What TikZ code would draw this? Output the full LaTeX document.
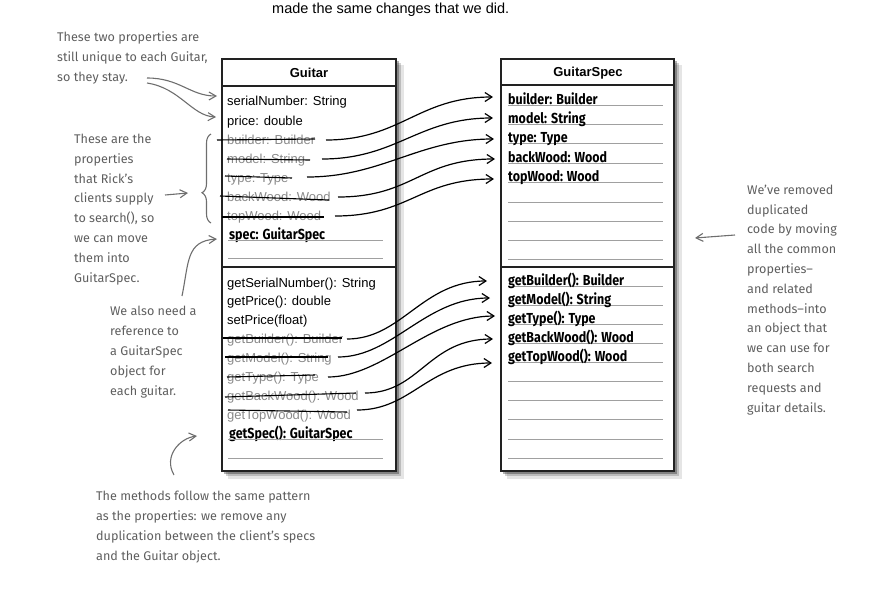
\documentclass[tikz,border=0pt]{standalone}
\usepackage{fontspec}
\setmainfont{Liberation Sans}
\newfontfamily\hand{Fira Sans}
\newfontfamily\handbold{Fira Sans}[FakeStretch=0.86]
\usetikzlibrary{arrows.meta,decorations.pathreplacing}
\definecolor{notegray}{HTML}{5E5E5E}
\definecolor{struckgray}{HTML}{8A8A8A}
\definecolor{rulegray}{HTML}{A0A0A0}
\definecolor{boxline}{HTML}{222222}
\begin{document}
\begin{tikzpicture}[x=1pt,y=-1pt,
  box/.style={draw=boxline,line width=1.6pt,fill=white},
  plain/.style={anchor=base west,inner sep=0pt,font=\fontsize{13}{15}\selectfont},
  struck/.style={plain,text=struckgray},
  spec/.style={anchor=base west,inner sep=0pt,font=\handbold\bfseries\fontsize{14.5}{16}\selectfont},
  title/.style={inner sep=0pt,font=\bfseries\fontsize{13}{15}\selectfont},
  note/.style={anchor=base west,align=left,inner sep=0pt,text=notegray,font=\hand\fontsize{12.6}{19.8}\selectfont},
  rule/.style={draw=rulegray,line width=0.9pt},
  strike/.style={draw=black,line width=1.1pt},
  mv/.style={draw=black,line width=1.2pt,-{Straight Barb[length=7pt,width=9pt,line width=1.2pt]}},
  nt/.style={draw=notegray!90,line width=1.1pt,-{Straight Barb[length=7pt,width=8pt,line width=1.1pt]}},
  shadow/.style={fill=black,opacity=#1,draw=none}
]
\useasboundingbox (0,0) rectangle (881,590);

% top text
\node[anchor=base west,inner sep=0pt,font=\fontsize{14.5}{16}\selectfont] (toptext) at (272,13) {made the same changes that we did.};

% ---------- shadows ----------
\foreach \bx/\ex in {222/396,501/674}{
  \fill[shadow=0.10] (\bx+6,65) rectangle (\ex+8,479);
  \fill[shadow=0.18] (\bx+4,63) rectangle (\ex+5,476);
  \fill[shadow=0.30] (\bx+2,61) rectangle (\ex+3,474);
}

% ---------- Guitar box ----------
\draw[box] (222,59) rectangle (396,471);
\draw[boxline,line width=1.4pt] (222,86) -- (396,86);
\draw[boxline,line width=1.4pt] (222,267) -- (396,267);
\node[title] (gtitle) at (309,73) {Guitar};

\node[plain]  (gsn)  at (227,105) {serialNumber: String};
\node[plain]  (gpr)  at (227,125) {price: double};
\node[struck] (gbu)  at (227,144) {builder: Builder};
\node[struck] (gmo)  at (227,163) {model: String};
\node[struck] (gty)  at (227,182) {type: Type};
\node[struck] (gbw)  at (227,201) {backWood: Wood};
\node[struck] (gtw)  at (227,220) {topWood: Wood};
\node[spec]   (gsp)  at (229,239) {spec: GuitarSpec};
\draw[rule] (228,240) -- (383,240);
\draw[rule] (228,258) -- (383,258);

\node[plain]  (mgsn) at (227,287) {getSerialNumber(): String};
\node[plain]  (mgpr) at (227,305) {getPrice(): double};
\node[plain]  (mspr) at (227,324) {setPrice(float)};
\node[struck] (mgbu) at (227,343) {getBuilder(): Builder};
\node[struck] (mgmo) at (227,362) {getModel(): String};
\node[struck] (mgty) at (227,381) {getType(): Type};
\node[struck] (mgbw) at (227,400) {getBackWood(): Wood};
\node[struck] (mgtw) at (227,419) {getTopWood(): Wood};
\node[spec]   (mgsp) at (229,438) {getSpec(): GuitarSpec};
\draw[rule] (228,439) -- (383,439);
\draw[rule] (228,458) -- (383,458);

% strike-throughs
\draw[strike] (217,140) -- (315,139);
\draw[strike] (227,159) -- (310,160);
\draw[strike] (225,176) -- (292,178);
\draw[strike] (220,196) -- (329,200);
\draw[strike] (222,217) -- (324,217);
\draw[strike] (223,338) -- (342,338);
\draw[strike] (225,357) -- (328,357);
\draw[strike] (227,377) -- (315,375);
\draw[strike] (225,397) -- (356,393);
\draw[strike] (228,410) -- (347,412);

% ---------- GuitarSpec box ----------
\draw[box] (501,59) rectangle (674,471);
\draw[boxline,line width=1.4pt] (501,85) -- (674,85);
\draw[boxline,line width=1.4pt] (501,267) -- (674,267);
\node[title] (stitle) at (588,73) {GuitarSpec};

\foreach \yy in {105,124,143,163,182,202,221,240,259}{\draw[rule] (508,\yy) -- (663,\yy);}
\foreach \yy in {286,305,324,343,362,381,400,419,439,458}{\draw[rule] (508,\yy) -- (663,\yy);}

\node[spec] (sbu) at (508,104) {builder: Builder};
\node[spec] (smo) at (508,123) {model: String};
\node[spec] (sty) at (508,142) {type: Type};
\node[spec] (sbw) at (508,162) {backWood: Wood};
\node[spec] (stw) at (508,181) {topWood: Wood};

\node[spec] (msbu) at (508,285) {getBuilder(): Builder};
\node[spec] (msmo) at (508,304) {getModel(): String};
\node[spec] (msty) at (508,323) {getType(): Type};
\node[spec] (msbw) at (508,342) {getBackWood(): Wood};
\node[spec] (mstw) at (508,361) {getTopWood(): Wood};

% ---------- move arrows ----------
\coordinate (a1s) at (326,140); \coordinate (a1e) at (493,97);
\coordinate (a2s) at (322,159); \coordinate (a2e) at (493,118);
\coordinate (a3s) at (307,177); \coordinate (a3e) at (494,139);
\coordinate (a4s) at (338,197); \coordinate (a4e) at (495,159);
\coordinate (a5s) at (335,216); \coordinate (a5e) at (494,179);
\coordinate (b1s) at (347,339); \coordinate (b1e) at (487,281);
\coordinate (b2s) at (338,357); \coordinate (b2e) at (490,298);
\coordinate (b3s) at (328,377); \coordinate (b3e) at (495,316);
\coordinate (b4s) at (365,393); \coordinate (b4e) at (493,339);
\coordinate (b5s) at (357,410); \coordinate (b5e) at (492,363);
\foreach \p in {a1,a2,a3,a4,a5}{
  \draw[mv] (\p s) .. controls +(75,0) and +(-75,0) .. (\p e);
}
\foreach \p in {b1,b2,b3,b4,b5}{
  \draw[mv] (\p s) .. controls +(55,0) and +(-65,0) .. (\p e);
}

% ---------- notes (anchor = baseline of last line) ----------
\node[note] (n1) at (57,81) {These two properties are\\still unique to each Guitar,\\so they stay.};
\node[note] (n2) at (74,282) {These are the\\properties\\that Rick’s\\clients supply\\to search(), so\\we can move\\them into\\GuitarSpec.};
\node[note] (n3) at (110,395) {We also need a\\reference to\\a GuitarSpec\\object for\\each guitar.};
\node[note] (n4) at (96,560) {The methods follow the same pattern\\as the properties: we remove any\\duplication between the client’s specs\\and the Guitar object.};
\node[note] (n5) at (747,412) {We’ve removed\\duplicated\\code by moving\\all the common\\properties–\\and related\\methods–into\\an object that\\we can use for\\both search\\requests and\\guitar details.};

\coordinate (c1s) at (147,78);  \coordinate (c1e) at (217,96);
\coordinate (c2s) at (147,83);  \coordinate (c2e) at (216,117);
\draw[nt] (c1s) .. controls (180,78) and (190,96) .. (c1e);
\draw[nt] (c2s) .. controls (180,88) and (192,116) .. (c2e);

\coordinate (c3s) at (165,195); \coordinate (c3e) at (188,193);
\draw[nt] (c3s) -- (c3e);
\coordinate (bt) at (211,223); \coordinate (bb) at (211,134);
\draw[notegray!90,line width=1.1pt,decorate,decoration={brace,amplitude=9pt,aspect=0.34}] (bt) -- (bb);

\coordinate (c4s) at (182,296); \coordinate (c4e) at (217,239);
\draw[nt] (c4s) .. controls (189,262) and (186,241) .. (c4e);

\coordinate (c5s) at (174,475); \coordinate (c5e) at (197,436);
\draw[nt] (c5s) .. controls (163,456) and (180,438) .. (c5e);

\coordinate (c6s) at (735,235); \coordinate (c6e) at (695,238);
\draw[nt] (c6s) -- (c6e);
\end{tikzpicture}
\end{document}
